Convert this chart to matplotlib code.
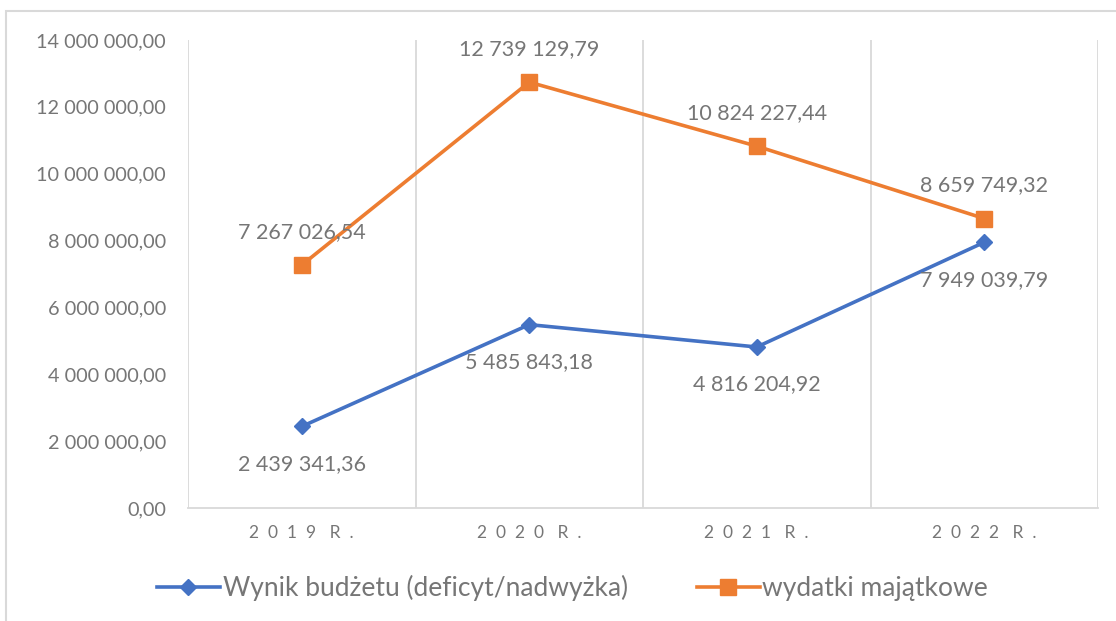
import matplotlib.pyplot as plt
from matplotlib.patches import Rectangle
from matplotlib.ticker import FuncFormatter, MultipleLocator

years = ["2019 R.", "2020 R.", "2021 R.", "2022 R."]
wynik = [2439341.36, 5485843.18, 4816204.92, 7949039.79]
wydatki = [7267026.54, 12739129.79, 10824227.44, 8659749.32]

blue = "#4472C4"
orange = "#ED7D31"
grey_text = "#767676"
grid_col = "#D9D9D9"


def pl_fmt(v, pos=None):
    # polish style: space thousands separator, comma decimal
    return f"{v:,.2f}".replace(",", " ").replace(".", ",")


plt.rcParams['font.family'] = ['Lato', 'DejaVu Sans']

fig = plt.figure(figsize=(11.16, 6.21), dpi=100)
ax = fig.add_axes([188 / 1116, 1 - 508 / 621, (1098 - 188) / 1116, (508 - 40) / 621])

x = list(range(len(years)))
ax.plot(x, wynik, color=blue, lw=2.6, marker="D", ms=8.5, label="Wynik budżetu (deficyt/nadwyżka)", zorder=3)
ax.plot(x, wydatki, color=orange, lw=2.6, marker="s", ms=11.5, label="wydatki majątkowe", zorder=3)

for xi, v in zip(x, wynik):
    ax.annotate(pl_fmt(v), (xi, v), xytext=(0, -27), textcoords="offset points",
                ha="center", va="center", fontsize=15.5, color=grey_text)
for xi, v in zip(x, wydatki):
    ax.annotate(pl_fmt(v), (xi, v), xytext=(0, 24), textcoords="offset points",
                ha="center", va="center", fontsize=15.5, color=grey_text)

ax.set_xlim(-0.5, len(years) - 0.5)
ax.set_ylim(0, 14000000)
ax.yaxis.set_major_locator(MultipleLocator(2000000))
ax.yaxis.set_major_formatter(FuncFormatter(pl_fmt))

# spaced-out category labels like the original
ax.set_xticks(x)
ax.set_xticklabels(["  ".join(y.replace(" ", "")).replace("  R", "   R") for y in years])
for b in [i - 0.5 for i in range(len(years) + 1)]:
    ax.axvline(b, color=grid_col, lw=1.3, zorder=1)

for s in ["top", "left", "right"]:
    ax.spines[s].set_visible(False)
ax.spines["bottom"].set_color(grid_col)
ax.spines["bottom"].set_linewidth(1.3)

ax.tick_params(axis="y", length=0, pad=16, labelsize=14.3, labelcolor=grey_text)
ax.tick_params(axis="x", length=0, pad=12, labelsize=12.5, labelcolor=grey_text)

fig.legend(loc="center", bbox_to_anchor=(0.513, 1 - 588 / 621), ncol=2, frameon=False,
           fontsize=19, handlelength=2.4, handletextpad=0.1, columnspacing=2.6,
           labelcolor=grey_text)

fig.patches.append(Rectangle((6 / 1116, -0.1), 1.2, 1 - 11 / 621 + 0.1, transform=fig.transFigure,
                             fill=False, edgecolor=grid_col, lw=1.5))

fig.savefig("out.png", dpi=100)
